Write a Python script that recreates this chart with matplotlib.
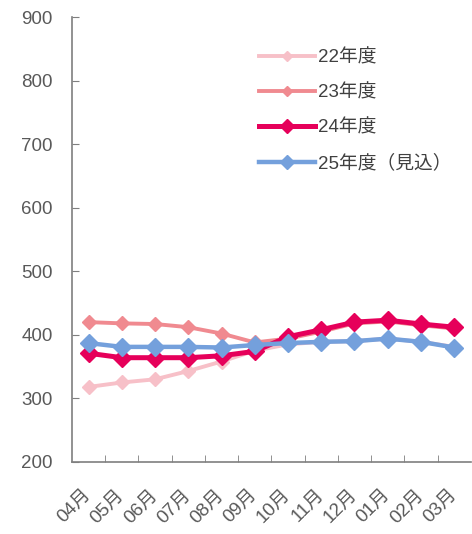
import numpy as np
import matplotlib.pyplot as plt
from matplotlib.ticker import FixedLocator

plt.rcParams['font.family'] = ['Liberation Sans', 'Noto Sans CJK JP']

# months (fiscal year order)
months = ['04月', '05月', '06月', '07月', '08月', '09月',
          '10月', '11月', '12月', '01月', '02月', '03月']

# series values
fy22 = [318, 325, 330, 343, 358, 375, 385, 389, 390, 394, 389, 381]
fy23 = [420, 418, 417, 412, 402, 388, 394, 405, 418, 421, 415, 410]
fy24 = [371, 364, 364, 364, 367, 374, 397, 408, 420, 423, 417, 412]
fy25 = [387, 381, 381, 381, 380, 384, 387, 389, 390, 394, 389, 380]

labels = ['22年度', '23年度', '24年度', '25年度（見込）']
colors = ['#f7c0c8', '#f08a90', '#e6005a', '#74a0dc']

fig = plt.figure(figsize=(4.72, 5.34), dpi=100)
ax = fig.add_axes([0.1525, 0.135, 0.845, 0.833])

x = np.arange(len(months))
series = [fy22, fy23, fy24, fy25]
widths = [2.8, 2.8, 3.6, 3.2]
msizes = [7, 7, 9, 9]
for vals, lab, col, lw, ms in zip(series, labels, colors, widths, msizes):
    ax.plot(x, vals, color=col, lw=lw, marker='D', markersize=ms,
            markeredgecolor=col, label=lab)

ax.set_xlim(-0.5, len(months) - 0.5)
ax.set_ylim(200, 900)
ax.set_yticks(range(200, 1000, 100))

# labels under points, tick marks between categories
ax.set_xticks(x)
ax.set_xticklabels(months, rotation=45, ha='right', va='center',
                   rotation_mode='anchor')
ax.xaxis.set_minor_locator(FixedLocator(np.arange(0.5, len(months) - 1, 1)))
ax.tick_params(axis='x', which='major', length=0, pad=22)
ax.tick_params(axis='x', which='minor', direction='in', length=5, color='#7f7f7f')
ax.tick_params(axis='y', direction='in', length=5, color='#7f7f7f')
ax.tick_params(labelsize=13.5, labelcolor='#595959')
ax.tick_params(axis='y', pad=14)

for s in ['top', 'right']:
    ax.spines[s].set_visible(False)
for s in ['left', 'bottom']:
    ax.spines[s].set_color('#7f7f7f')
    ax.spines[s].set_linewidth(1.2)

leg = ax.legend(loc='upper left', bbox_to_anchor=(0.45, 0.945), frameon=False,
                fontsize=13.5, handlelength=3.0, handletextpad=0.15,
                labelspacing=0.95, borderaxespad=0, markerscale=0.75)
for t in leg.get_texts():
    t.set_color('#404040')

fig.savefig('out.png', dpi=100)
